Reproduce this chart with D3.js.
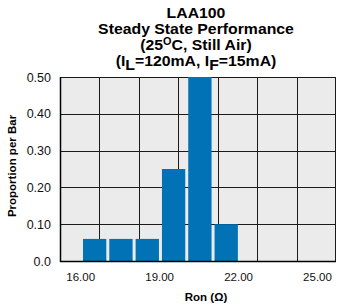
<!DOCTYPE html>
<html><head><meta charset="utf-8">
<script src="https://cdn.jsdelivr.net/npm/d3@7"></script>
<style>body{margin:0;background:#fff}svg{display:block}text{font-family:"Liberation Sans",Arial,sans-serif}</style>
</head><body>
<script>
const binStarts = [16, 17, 18, 19, 20, 21];
const proportions = [0.06, 0.06, 0.06, 0.25, 0.50, 0.10];
const xTicks = [16, 19, 22, 25];
const yTicks = [0, 0.1, 0.2, 0.3, 0.4, 0.5];
const yTickLabels = ["0.0", "0.10", "0.20", "0.30", "0.40", "0.50"];
const titleLines = ["LAA100", "Steady State Performance", "(25°C, Still Air)"];

const W = 337, H = 306;
const L = 60, R = 336, T = 77, B = 261;
const svg = d3.select("body").append("svg").attr("width", W).attr("height", H);

const x = d3.scaleLinear().domain([16, 25]).range([82.7, 319.5]);
const y = d3.scaleLinear().domain([0, 0.5]).range([B, T]);

svg.append("rect").attr("x", L).attr("y", T).attr("width", R - L).attr("height", B - T).attr("fill", "#ebebeb");

// grid
const g = svg.append("g").attr("stroke", "#1a1a1a").attr("stroke-width", 1);
for (let i = 1; i < 7; i++) {
  const gx = Math.round(L + i * (R - L) / 7) + 0.5;
  g.append("line").attr("x1", gx).attr("x2", gx).attr("y1", T).attr("y2", B);
}
yTicks.slice(1).forEach(v => {
  const gy = Math.round(y(v)) + 0.5;
  g.append("line").attr("x1", L).attr("x2", R).attr("y1", gy).attr("y2", gy);
});
g.append("line").attr("x1", R - 0.5).attr("x2", R - 0.5).attr("y1", T).attr("y2", B);

// bars
svg.append("g").selectAll("rect").data(binStarts).join("rect")
  .attr("x", (d) => x(d) + 0.3)
  .attr("width", (d) => x(d + 1) - x(d) - 3)
  .attr("y", (d, i) => y(proportions[i]))
  .attr("height", (d, i) => B - y(proportions[i]))
  .attr("fill", "#0072b5");

// axes lines
svg.append("line").attr("x1", L + 0.5).attr("x2", L + 0.5).attr("y1", T).attr("y2", B + 1).attr("stroke", "#000").attr("stroke-width", 1.5);
svg.append("line").attr("x1", L).attr("x2", R).attr("y1", B + 0.5).attr("y2", B + 0.5).attr("stroke", "#000").attr("stroke-width", 1.5);

// y tick labels
svg.append("g").selectAll("text").data(yTicks).join("text")
  .attr("x", 51).attr("y", d => y(d) + 4.5)
  .attr("text-anchor", "end").attr("font-size", 12.5).attr("fill", "#111")
  .text((d, i) => yTickLabels[i]);

// x tick labels
svg.append("g").selectAll("text").data(xTicks).join("text")
  .attr("x", d => x(d) - 2).attr("y", 281)
  .attr("text-anchor", "middle").attr("font-size", 11.5).attr("fill", "#111")
  .text(d => d.toFixed(2));

// axis titles
svg.append("text").attr("x", 206).attr("y", 301).attr("text-anchor", "middle")
  .attr("font-size", 11.5).attr("font-weight", "bold").text("Ron (Ω)");
svg.append("text").attr("transform", "translate(16,166) rotate(-90)").attr("text-anchor", "middle")
  .attr("font-size", 11.5).attr("font-weight", "bold").text("Proportion per Bar");

// title
const tt = svg.append("g").attr("transform", "translate(196,0) scale(1.09,1)")
  .attr("text-anchor", "middle").attr("font-weight", "bold").attr("font-size", 14.5).attr("fill", "#000");
tt.append("text").attr("x", 0).attr("y", 18).text(titleLines[0]);
tt.append("text").attr("x", 0).attr("y", 34).text(titleLines[1]);
const t3 = tt.append("text").attr("x", 0).attr("y", 50);
t3.append("tspan").text("(25");
t3.append("tspan").attr("dy", -5).attr("font-size", 10).text("O");
t3.append("tspan").attr("dy", 5).text("C, Still Air)");
const t4 = tt.append("text").attr("x", 0).attr("y", 66);
t4.append("tspan").text("(I");
t4.append("tspan").attr("dy", 4).text("L");
t4.append("tspan").attr("dy", -4).text("=120mA, I");
t4.append("tspan").attr("dy", 4).text("F");
t4.append("tspan").attr("dy", -4).text("=15mA)");
</script>
</body></html>
